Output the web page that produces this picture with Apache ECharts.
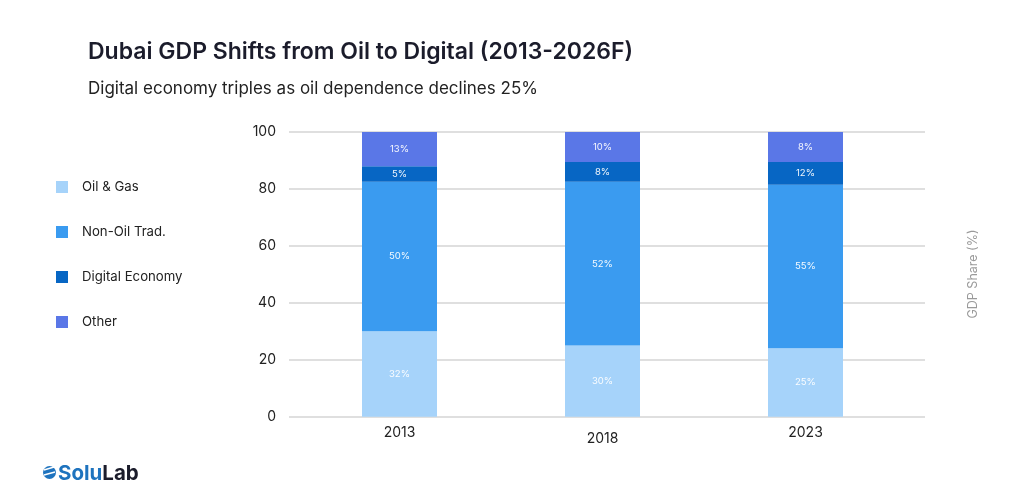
<!DOCTYPE html>
<html>
<head>
<meta charset="utf-8">
<script src="https://cdn.jsdelivr.net/npm/echarts@6/dist/echarts.min.js"></script>
<style>
html,body{margin:0;padding:0;background:#fff;}
#c{width:1024px;height:504px;}
</style>
</head>
<body>
<div id="c"></div>
<script>
var categories = ['2013', '2018', '2023'];
var seriesNames = ['Oil & Gas', 'Non-Oil Trad.', 'Digital Economy', 'Other'];
// segment heights as drawn
var oilGas = [30, 25, 24];
var nonOil = [52.5, 57.5, 57.5];
var digital = [5.5, 7, 8];
var other = [12, 10.5, 10.5];
// label texts as printed
var oilGasLabels = ['32%', '30%', '25%'];
var nonOilLabels = ['50%', '52%', '55%'];
var digitalLabels = ['5%', '8%', '12%'];
var otherLabels = ['13%', '10%', '8%'];
var yTicks = [0, 20, 40, 60, 80, 100];

var colors = ['#A6D3FA', '#3A9BF0', '#0766C4', '#5A77E7'];
var FONT = 'Inter, "Noto Sans", sans-serif';

function mk(name, data, labels, color) {
  return {
    name: name, type: 'bar', stack: 'total', xAxisIndex: 0, yAxisIndex: 0,
    data: data, barWidth: 75,
    itemStyle: { color: color },
    label: {
      show: true, position: 'inside', color: 'rgba(255,255,255,0.95)',
      fontSize: 9.5, fontFamily: FONT,
      formatter: function (p) { return labels[p.dataIndex]; }
    }
  };
}

var chart = echarts.init(document.getElementById('c'));
chart.setOption({
  backgroundColor: '#ffffff',
  animation: false,
  color: colors,
  title: [
    { text: 'Dubai GDP Shifts from Oil to Digital (2013-2026F)', left: 83, top: 33,
      textStyle: { fontFamily: FONT, fontSize: 23, fontWeight: 600, color: '#1b1c2b', lineHeight: 28 } },
    { text: 'Digital economy triples as oil dependence declines 25%', left: 83, top: 74,
      textStyle: { fontFamily: FONT, fontSize: 17, fontWeight: 400, color: '#222', lineHeight: 20 } }
  ],
  legend: {
    orient: 'vertical', left: 51, top: 175,
    itemWidth: 12, itemHeight: 12, itemGap: 31,
    icon: 'rect',
    data: seriesNames,
    formatter: function (n) { return '{t|' + n + '}'; },
    textStyle: { fontFamily: FONT, fontSize: 13, color: '#222', lineHeight: 14,
      rich: { t: { fontFamily: FONT, fontSize: 13.2, color: '#222', padding: [0, 0, 0, 9], lineHeight: 14 } } }
  },
  grid: [
    { left: 298, right: 117, top: 132, bottom: 87.3 },
    { left: 289, right: 99, top: 132, bottom: 87.3 }
  ],
  xAxis: [
    { type: 'category', gridIndex: 0, data: categories,
      axisLine: { show: false }, axisTick: { show: false },
      axisLabel: { margin: 9, fontFamily: FONT, fontSize: 14, color: '#222',
        formatter: function (v, i) { return i === 1 ? '{b|' + v + '}' : '{a|' + v + '}'; },
        rich: { a: { fontFamily: FONT, fontSize: 14, color: '#222' },
                b: { fontFamily: FONT, fontSize: 14, color: '#222', padding: [6, 0, 0, 0] } } } },
    { type: 'value', gridIndex: 1, show: false, min: 0, max: 1 }
  ],
  yAxis: [
    { type: 'value', gridIndex: 0, min: 0, max: 100, interval: 20, show: false, splitLine: { show: false } },
    { type: 'value', gridIndex: 1, min: yTicks[0], max: yTicks[yTicks.length - 1], interval: 20,
      axisLine: { show: false }, axisTick: { show: false },
      axisLabel: { margin: 13, fontFamily: FONT, fontSize: 14, color: '#222' },
      splitLine: { show: true, lineStyle: { color: '#d4d4d4', width: 1.6 } } }
  ],
  graphic: [
    { type: 'text', x: 973, y: 274, rotation: Math.PI / 2,
      style: { text: 'GDP Share (%)', fontFamily: FONT, fontSize: 12.5, fill: '#9a9a9a', align: 'center', verticalAlign: 'middle' } },
    { type: 'circle', shape: { cx: 49.5, cy: 472.5, r: 6.5 }, style: { fill: '#1e73be' } },
    { type: 'line', shape: { x1: 44, y1: 470, x2: 54, y2: 467 }, style: { stroke: '#fff', lineWidth: 1.4 } },
    { type: 'line', shape: { x1: 44, y1: 475, x2: 55, y2: 472 }, style: { stroke: '#fff', lineWidth: 1.4 } },
    { type: 'text', x: 58, y: 474,
      style: { text: '{s|Solu}{l|Lab}', verticalAlign: 'middle',
        rich: { s: { fontFamily: FONT, fontSize: 20.5, fontWeight: 700, fill: '#1e73be' },
                l: { fontFamily: FONT, fontSize: 20.5, fontWeight: 700, fill: '#1b1c2b' } } } }
  ],
  series: [
    mk(seriesNames[0], oilGas, oilGasLabels, colors[0]),
    mk(seriesNames[1], nonOil, nonOilLabels, colors[1]),
    mk(seriesNames[2], digital, digitalLabels, colors[2]),
    mk(seriesNames[3], other, otherLabels, colors[3])
  ]
});
</script>
</body>
</html>
